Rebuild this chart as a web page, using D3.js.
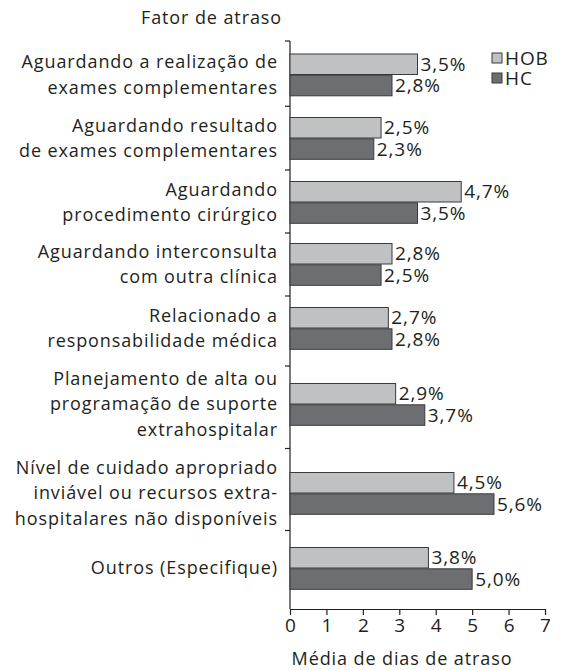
<!DOCTYPE html>
<html>
<head>
<meta charset="utf-8">
<script src="https://cdn.jsdelivr.net/npm/d3@7"></script>
<style>
  body { margin: 0; background: #fff; }
  text { font-family: "Open Sans", sans-serif; fill: #231f20; letter-spacing: 0.9px; }
</style>
</head>
<body>
<div id="chart"></div>
<script>
const categories = [
  ["Aguardando a realização de", "exames complementares"],
  ["Aguardando resultado", "de exames complementares"],
  ["Aguardando", "procedimento cirúrgico"],
  ["Aguardando interconsulta", "com outra clínica"],
  ["Relacionado a", "responsabilidade médica"],
  ["Planejamento de alta ou", "programação de suporte", "extrahospitalar"],
  ["Nível de cuidado apropriado", "inviável ou recursos extra-", "hospitalares não disponíveis"],
  ["Outros (Especifique)"],
];
const hob = [3.5, 2.5, 4.7, 2.8, 2.7, 2.9, 4.5, 3.8];
const hc = [2.8, 2.3, 3.5, 2.5, 2.8, 3.7, 5.6, 5.0];
const seriesNames = ["HOB", "HC"];
const xTicks = [0, 1, 2, 3, 4, 5, 6, 7];

// spacing between row centres (relative units), the source has uneven rows
const rowSteps = [63.5, 64, 62, 64, 76, 89, 75];

const W = 561, H = 670;
const mLeft = 290, mRight = 545, mTop = 41, mBottom = 609;
const colors = { HOB: "#c0c1c3", HC: "#6d6e71" };

const svg = d3.select("#chart").append("svg")
  .attr("width", W).attr("height", H);

const x = d3.scaleLinear().domain([0, 7]).range([mLeft, mRight]);

// cumulative row positions
const pos = [0];
rowSteps.forEach((s, i) => pos.push(pos[i] + s));
const pad0 = 33.5, pad1 = 41;
const y = d3.scaleLinear()
  .domain([-pad0, pos[pos.length - 1] + pad1])
  .range([mTop, mBottom]);
const centers = pos.map((p) => y(p));
const bounds = [y(-pad0)]
  .concat(pos.slice(1).map((p, i) => y((p + pos[i]) / 2)))
  .concat([y(pos[pos.length - 1] + pad1)]);

const barH = 20.5;

// y axis line + ticks on boundaries
svg.append("line")
  .attr("x1", mLeft).attr("x2", mLeft)
  .attr("y1", mTop).attr("y2", mBottom)
  .attr("stroke", "#231f20").attr("stroke-width", 1.2);
svg.selectAll(".ytick").data(bounds.slice(0, -1)).enter()
  .append("line")
  .attr("x1", mLeft - 5).attr("x2", mLeft)
  .attr("y1", (d) => d).attr("y2", (d) => d)
  .attr("stroke", "#231f20").attr("stroke-width", 1.2);

// x axis
const xAxis = svg.append("g")
  .attr("transform", `translate(0,${mBottom})`)
  .call(d3.axisBottom(x).tickValues(xTicks).tickFormat(d3.format("d"))
    .tickSize(6).tickSizeOuter(0).tickPadding(4));
xAxis.select(".domain").attr("stroke", "#231f20").attr("stroke-width", 1.2);
xAxis.selectAll(".tick line").attr("stroke", "#231f20").attr("stroke-width", 1.2);
xAxis.selectAll("text").attr("font-size", 19).attr("fill", "#231f20")
  .style("font-family", "Open Sans, sans-serif").style("letter-spacing", "0px");

// bars
const rows = categories.map((c, i) => ({ label: c, hob: hob[i], hc: hc[i], cy: centers[i] }));
const g = svg.selectAll(".row").data(rows).enter().append("g");

[["hob", "HOB", -barH], ["hc", "HC", 0.8]].forEach(([key, name, off]) => {
  g.append("rect")
    .attr("x", x(0))
    .attr("y", (d) => d.cy + off)
    .attr("width", (d) => x(d[key]) - x(0))
    .attr("height", barH)
    .attr("fill", colors[name])
    .attr("stroke", "#3a3a3c").attr("stroke-width", 1);
  g.append("text")
    .attr("x", (d) => x(d[key]) + 3)
    .attr("y", (d) => d.cy + off + barH / 2)
    .attr("dy", "0.35em")
    .attr("font-size", 19)
    .text((d) => d[key].toFixed(1).replace(".", ",") + "%");
});

// category labels
g.each(function (d) {
  const n = d.label.length, lh = 25.5;
  d3.select(this).selectAll(".cat").data(d.label).enter()
    .append("text")
    .attr("x", 278)
    .attr("y", (t, j) => d.cy + (j - (n - 1) / 2) * lh)
    .attr("dy", "0.35em")
    .attr("text-anchor", "end")
    .attr("font-size", 18)
    .text((t) => t);
});

// legend
const leg = svg.append("g").attr("transform", "translate(492,53)");
seriesNames.forEach((s, i) => {
  leg.append("rect").attr("x", 0).attr("y", i * 20).attr("width", 10).attr("height", 10)
    .attr("fill", colors[s]).attr("stroke", "#3a3a3c").attr("stroke-width", 1);
  leg.append("text").attr("x", 13).attr("y", i * 20 + 5).attr("dy", "0.35em")
    .attr("font-size", 19).text(s);
});

// titles
svg.append("text").attr("x", 282).attr("y", 18).attr("dy", "0.35em")
  .attr("text-anchor", "end").attr("font-size", 18).text("Fator de atraso");
svg.append("text").attr("x", 402).attr("y", 659).attr("dy", "0.35em")
  .attr("text-anchor", "middle").attr("font-size", 18).text("Média de dias de atraso");
</script>
</body>
</html>
